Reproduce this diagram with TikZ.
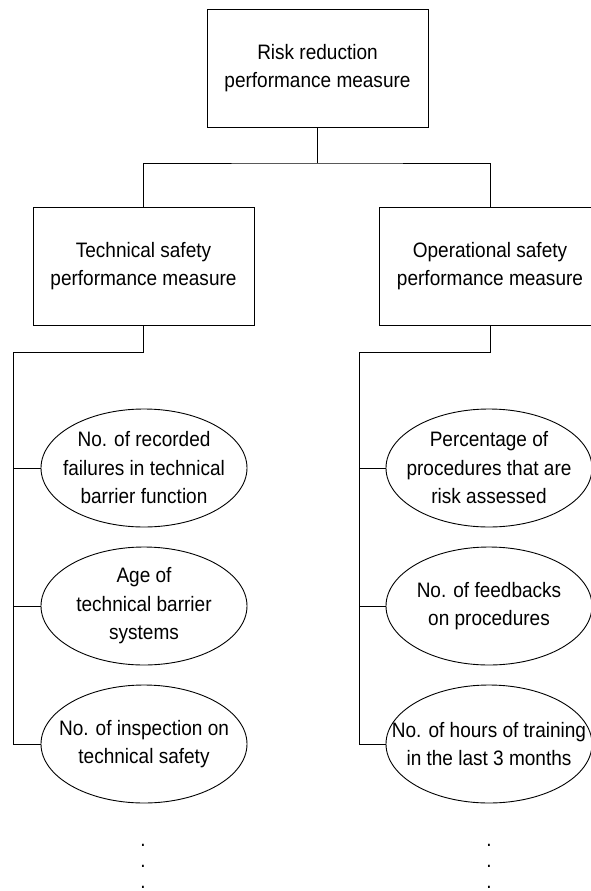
\documentclass[tikz,border=0pt]{standalone}
\usepackage{fontspec}
\setmainfont{Liberation Sans}[FakeStretch=0.91]
\usetikzlibrary{shapes.geometric}
\begin{document}
\begin{tikzpicture}[x=1pt,y=-1pt,
  box/.style={draw, line width=0.9pt, rectangle, minimum width=221pt, minimum height=118pt, inner sep=0pt},
  ell/.style={draw, line width=0.9pt, ellipse, minimum width=206pt, minimum height=118pt, inner sep=0pt},
  txt/.style={align=center, font=\fontsize{20.9}{28.5}\selectfont, inner sep=0pt},
  conn/.style={line width=0.9pt},
  dotmark/.style={font=\fontsize{20.9}{21}\selectfont, inner sep=0pt, anchor=base}]
\useasboundingbox (0,0) rectangle (591,891);
% boxes
\node[box, txt] (top) at (317.5,68) {Risk reduction\\performance measure};
\node[box, txt] (tech) at (143.5,266) {Technical safety\\performance measure};
\node[box, txt] (oper) at (490,266) {Operational safety\\performance measure};
% ellipses left
\node[ell] (e1) at (144,468) {};
\node[txt] (e1t) at (e1.center) {No. of recorded\\failures in technical\\barrier function};
\node[ell] (e2) at (144,606) {};
\node[txt] (e2t) at (e2.center) {Age of\\technical barrier\\systems};
\node[ell] (e3) at (144,744) {};
\node[txt] (e3t) at (e3.center) {No. of inspection on\\technical safety};
% ellipses right
\node[ell] (f1) at (489,468) {};
\node[txt] (f1t) at (f1.center) {Percentage of\\procedures that are\\risk assessed};
\node[ell] (f2) at (489,606) {};
\node[txt] (f2t) at (f2.center) {No. of feedbacks\\on procedures};
\node[ell] (f3) at (489,744) {};
\node[txt] (f3t) at (f3.center) {No. of hours of training\\in the last 3 months};
% connectors top
\coordinate (j) at (317.5,163);
\draw[conn] (top.south) -- (j);
\draw[conn] (tech.north) |- (j) -| (oper.north);
% left bus
\coordinate (lj) at (143.5,352);
\coordinate (lb) at (13,352);
\draw[conn] (tech.south) -- (lj) -- (lb) |- (e3.west);
\draw[conn] (lb) |- (e1.west);
\draw[conn] (lb) |- (e2.west);
% right bus
\coordinate (rj) at (490,352);
\coordinate (rb) at (359,352);
\draw[conn] (oper.south) -- (rj) -- (rb) |- (f3.west);
\draw[conn] (rb) |- (f1.west);
\draw[conn] (rb) |- (f2.west);
% dots
\node[dotmark] (ld1) at (143,846.5) {.};
\node[dotmark] (ld2) at (143,867.5) {.};
\node[dotmark] (ld3) at (143,888) {.};
\node[dotmark] (rd1) at (489,846.5) {.};
\node[dotmark] (rd2) at (489,867.5) {.};
\node[dotmark] (rd3) at (489,888) {.};
\end{tikzpicture}
\end{document}
